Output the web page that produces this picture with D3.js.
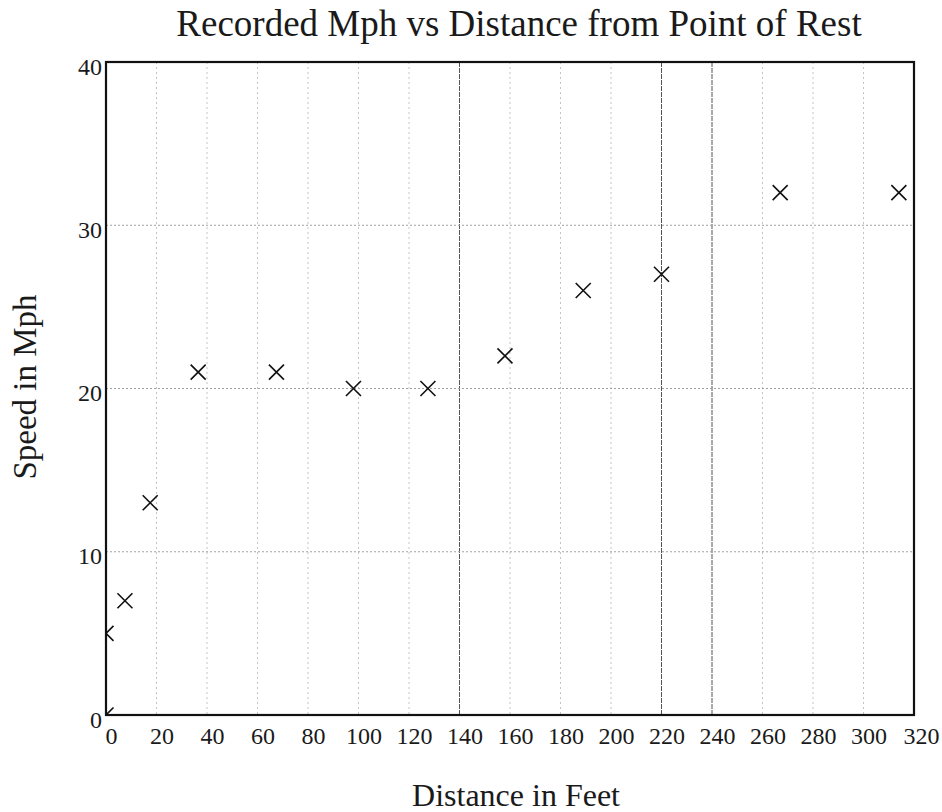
<!DOCTYPE html>
<html>
<head>
<meta charset="utf-8">
<script src="https://cdn.jsdelivr.net/npm/d3@7"></script>
<style>
html,body{margin:0;padding:0;background:#fff;}
svg{display:block;}
text{font-family:"Liberation Serif","Times New Roman",serif;fill:#1a1a1a;}
.tick text{font-size:24px !important;font-family:"Liberation Serif","Times New Roman",serif !important;}
</style>
</head>
<body>
<svg id="chart" width="942" height="812"></svg>
<script>
const distance = [0, 0, 7.5, 17.5, 36.5, 67.5, 98, 127.5, 158, 189, 220, 267, 314];
const speed    = [0, 5, 7, 13, 21, 21, 20, 20, 22, 26, 27, 32, 32];
const xTicks = [0,20,40,60,80,100,120,140,160,180,200,220,240,260,280,300,320];
const yTicks = [0,10,20,30,40];
const darkGridX = [140, 220, 240];
const titleText = "Recorded Mph vs Distance from Point of Rest";
const xLabel = "Distance in Feet";
const yLabel = "Speed in Mph";

const svg = d3.select("#chart");
const m = {left:106, right:914, top:62, bottom:715};
const x = d3.scaleLinear().domain([0,320]).range([m.left, m.right]);
const y = d3.scaleLinear().domain([0,40]).range([m.bottom, m.top]);

svg.append("defs").append("clipPath").attr("id","plotclip")
  .append("rect").attr("x",m.left).attr("y",m.top)
  .attr("width",m.right-m.left).attr("height",m.bottom-m.top);

// grid
const grid = svg.append("g");
grid.selectAll("line.vx").data(xTicks.filter(d=>d>0&&d<320)).enter().append("line")
  .attr("x1",d=>x(d)).attr("x2",d=>x(d)).attr("y1",m.top).attr("y2",m.bottom)
  .attr("stroke", d=>darkGridX.includes(d)?"#555":"#c4c4c4")
  .attr("stroke-width",1)
  .attr("stroke-dasharray", d=>darkGridX.includes(d)?"5,1":"2,3");
grid.selectAll("line.hy").data(yTicks.filter(d=>d>0&&d<40)).enter().append("line")
  .attr("y1",d=>y(d)).attr("y2",d=>y(d)).attr("x1",m.left).attr("x2",m.right)
  .attr("stroke","#a0a0a0").attr("stroke-width",1).attr("stroke-dasharray","2,2");

// axes (labels only)
const xAxis = svg.append("g").attr("transform",`translate(0,${m.bottom})`)
  .call(d3.axisBottom(x).tickValues(xTicks).tickSize(0).tickPadding(12));
xAxis.attr("font-size",24).attr("font-family",'"Liberation Serif",serif');
xAxis.select(".domain").remove();
xAxis.selectAll("text").attr("fill","#1a1a1a").attr("dx", d=>d===320?7:5);

const yAxis = svg.append("g").attr("transform",`translate(${m.left},0)`)
  .call(d3.axisLeft(y).tickValues(yTicks).tickSize(0).tickPadding(4));
yAxis.attr("font-size",24).attr("font-family",'"Liberation Serif",serif');
yAxis.select(".domain").remove();
yAxis.selectAll("text").attr("fill","#1a1a1a").attr("dy","0.5em");

// frame
svg.append("rect").attr("x",m.left).attr("y",m.top)
  .attr("width",m.right-m.left).attr("height",m.bottom-m.top)
  .attr("fill","none").attr("stroke","#111").attr("stroke-width",2.2);

// markers
const s = 7.5;
const pts = svg.append("g").attr("clip-path","url(#plotclip)");
const data = distance.map((d,i)=>({x:d, y:speed[i]}));
pts.selectAll("path").data(data).enter().append("path")
  .attr("d", d=>{const cx=x(d.x), cy=y(d.y);
    return `M${cx-s},${cy-s}L${cx+s},${cy+s}M${cx-s},${cy+s}L${cx+s},${cy-s}`;})
  .attr("stroke","#111").attr("stroke-width",1.6).attr("fill","none");

// titles
svg.append("text").attr("x",519).attr("y",36).attr("text-anchor","middle")
  .attr("font-size",37).text(titleText);
svg.append("text").attr("x",516).attr("y",806).attr("text-anchor","middle")
  .attr("font-size",32).text(xLabel);
svg.append("text").attr("transform","translate(36,387) rotate(-90)").attr("text-anchor","middle")
  .attr("font-size",33).text(yLabel);
</script>
</body>
</html>
